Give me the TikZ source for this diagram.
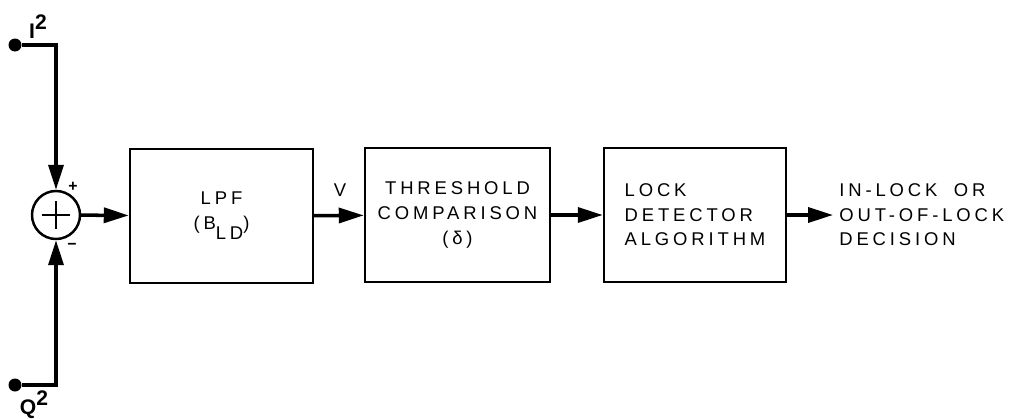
\documentclass[tikz,border=0pt]{standalone}
\usepackage{fontspec}
\setmainfont{Liberation Sans}[LetterSpace=21]
\usetikzlibrary{arrows.meta}

\tikzset{
    blk/.style={draw, line width=1.4pt, minimum width=3.66cm, minimum height=2.68cm, align=center, font=\fontsize{10.5}{14}\selectfont},
    sig/.style={line width=2pt, -{Triangle[length=0.5cm, width=0.3cm]}},
    dot/.style={circle, fill, inner sep=0pt, minimum size=0.26cm},
    lbl/.style={font=\fontsize{10.5}{14}\selectfont}
}

\begin{document}
\begin{tikzpicture}
    \useasboundingbox (0,0) rectangle (20.22,8.36);
    \node[dot] (idot) at (0.30,7.46) {};
    \node[dot] (qdot) at (0.30,0.66) {};
    \node[draw, circle, line width=1.4pt, minimum size=0.96cm, inner sep=0pt] (sum) at (1.12,4.06) {};
    \draw[line width=1.4pt] ([xshift=-0.28cm]sum.center) -- ([xshift=0.28cm]sum.center);
    \draw[line width=1.4pt] ([yshift=-0.28cm]sum.center) -- ([yshift=0.28cm]sum.center);
    \node[blk] (lpf) at (4.43,4.04) {LPF\\(B\raisebox{-6pt}{LD})};
    \node[blk, minimum width=3.70cm] (thr) at (9.15,4.06) {THRESHOLD\\COMPARISON\\(δ)};
    \node[blk, minimum width=3.64cm, align=left] (lock) at (13.90,4.06) {LOCK\\DETECTOR\\ALGORITHM};
    \node[lbl, anchor=west, align=left, inner sep=0.12cm] (dec) at (16.66,4.06) {IN-LOCK\hspace{0.15cm} OR\\OUT-OF-LOCK\\DECISION};
    \draw[sig] (idot) -| (sum);
    \draw[sig] (qdot) -| (sum);
    \draw[sig] (sum) -- (lpf);
    \draw[sig] (lpf) -- (thr);
    \draw[sig] (thr) -- (lock);
    \draw[sig] (lock) -- (dec.west);
    \node[font=\fontsize{12}{14}\selectfont\bfseries] (ilab) at (0.76,7.82) {I\raisebox{0.8ex}{2}};
    \node[font=\fontsize{12}{14}\selectfont\bfseries] (qlab) at (0.68,0.26) {Q\raisebox{0.8ex}{2}};
    \node[font=\fontsize{9}{10}\selectfont\bfseries] (plus) at (1.46,4.62) {+};
    \node[font=\fontsize{9}{10}\selectfont\bfseries] (minus) at (1.44,3.44) {−};
    \node[lbl] (v) at (6.80,4.56) {V};
\end{tikzpicture}
\end{document}
